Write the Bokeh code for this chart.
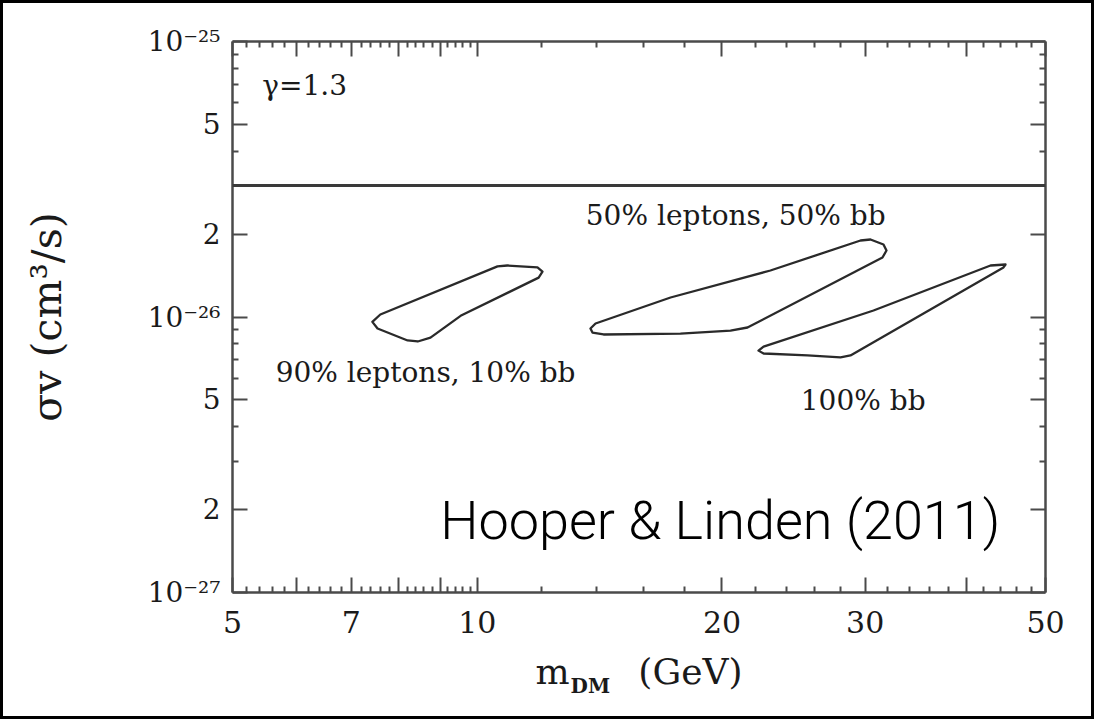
from bokeh.plotting import figure
from bokeh.models import LogAxis, FixedTicker, CustomJSTickFormatter, Span, Label
from bokeh.embed import file_html
from bokeh.resources import INLINE

# ---------------- data ----------------
X_RANGE = (5, 50)
Y_RANGE = (1e-27, 1e-25)

x_major = [5, 6, 7, 8, 9, 10, 20, 30, 40, 50]
x_labeled = [5, 7, 10, 20, 30, 50]
x_minor = [5.2, 5.4, 5.6, 5.8, 6.2, 6.4, 6.6, 6.8, 7.2, 7.4, 7.6, 7.8,
           8.2, 8.4, 8.6, 8.8, 9.2, 9.4, 9.6, 9.8,
           12, 14, 16, 18, 22, 24, 26, 28, 32, 34, 36, 38, 42, 44, 46, 48]
y_major = [1e-27, 2e-27, 5e-27, 1e-26, 2e-26, 5e-26, 1e-25]
y_minor = [3e-27, 4e-27, 6e-27, 7e-27, 8e-27, 9e-27,
           3e-26, 4e-26, 6e-26, 7e-26, 8e-26, 9e-26]

limit_sv = 3e-26   # horizontal limit line

UNIT = 1e-26
# contour: 90% leptons, 10% bb
c90_m = [7.43, 7.60, 10.59, 10.89, 11.86, 12.03, 11.90, 9.54, 8.76, 8.45, 8.21, 7.54]
c90_sv = [0.960, 1.021, 1.526, 1.538, 1.513, 1.460, 1.390, 1.010, 0.842, 0.815, 0.822, 0.908]
# contour: 50% leptons, 50% bb
c50_m = [13.78, 13.98, 17.29, 22.94, 29.61, 30.46, 31.60, 31.87, 31.51, 21.50, 20.49, 17.78, 14.30, 13.86]
c50_sv = [0.908, 0.947, 1.177, 1.475, 1.895, 1.911, 1.833, 1.743, 1.644, 0.916, 0.893, 0.871, 0.864, 0.878]
# contour: 100% bb
cbb_m = [22.18, 22.50, 30.72, 42.79, 44.65, 44.39, 28.78, 27.98, 25.48, 22.50]
cbb_sv = [0.755, 0.781, 1.056, 1.538, 1.551, 1.513, 0.725, 0.713, 0.725, 0.737]

contour_m = [c90_m, c50_m, cbb_m]
contour_sv = [[v * UNIT for v in c90_sv], [v * UNIT for v in c50_sv], [v * UNIT for v in cbb_sv]]

# annotation texts
ann_texts = ["γ=1.3", "50% leptons, 50% bb", "90% leptons, 10% bb", "100% bb"]
ann_x = [5.44, 13.6, 5.65, 25.0]
ann_y = [6.9e-26, 2.33e-26, 6.29e-27, 4.98e-27]
credit = "Hooper & Linden (2011)"

FS = "\u2007"  # figure space used for spacing inside the axis title
x_title_main = "m" + FS * 3 + "(GeV)"
x_title_sub = "DM" + FS * 7

# ---------------- figure ----------------
AX = "#4a4a4a"
TXT = "#1a1a1a"
SERIF = "DejaVu Serif"

p = figure(x_axis_type="log", y_axis_type="log", x_range=X_RANGE, y_range=Y_RANGE,
           frame_width=813, frame_height=551,
           min_border_left=229, min_border_right=46, min_border_top=38, min_border_bottom=124,
           output_backend="svg", toolbar_location=None)
p.styles = {"border": "3px solid black"}
p.outline_line_color = None
p.xgrid.visible = False
p.ygrid.visible = False
p.background_fill_color = "white"
p.border_fill_color = "white"

xt = FixedTicker(ticks=x_major, minor_ticks=x_minor)
yt = FixedTicker(ticks=y_major, minor_ticks=y_minor)

x_fmt = CustomJSTickFormatter(args=dict(show=x_labeled),
                              code="return show.includes(tick) ? String(tick) : '';")
y_fmt = CustomJSTickFormatter(code="""
const e = Math.floor(Math.log10(tick) + 1e-9);
const m = Math.round(tick / Math.pow(10, e));
if (m === 1) {
  const sup = {"-": "\u207b", "0": "\u2070", "1": "\u00b9", "2": "\u00b2", "3": "\u00b3",
               "4": "\u2074", "5": "\u2075", "6": "\u2076", "7": "\u2077", "8": "\u2078", "9": "\u2079"};
  return "10" + String(e).split("").map(c => sup[c]).join("");
}
return String(m);
""")
blank = CustomJSTickFormatter(code="return '';")


def style_axis(ax):
    ax.axis_line_color = AX
    ax.axis_line_width = 2.5
    ax.major_tick_line_color = AX
    ax.major_tick_line_width = 2
    ax.minor_tick_line_color = AX
    ax.minor_tick_line_width = 2
    ax.major_tick_in = 15
    ax.major_tick_out = 0
    ax.minor_tick_in = 6
    ax.minor_tick_out = 0
    ax.major_label_text_font = SERIF
    ax.major_label_text_color = TXT


xa = p.xaxis[0]
xa.ticker = xt
xa.formatter = x_fmt
style_axis(xa)
xa.major_label_text_font_size = "30px"
xa.major_label_standoff = 18
xa.axis_label = x_title_main
xa.axis_label_text_font = SERIF
xa.axis_label_text_font_size = "36px"
xa.axis_label_text_font_style = "normal"
xa.axis_label_text_color = TXT
xa.axis_label_standoff = 15

# second (invisible) axis below, carrying only the subscript of the title
sub_ax = LogAxis(ticker=FixedTicker(ticks=[]), formatter=blank, axis_line_color=None,
                 major_tick_line_color=None, minor_tick_line_color=None,
                 major_label_standoff=0, axis_label=x_title_sub,
                 axis_label_text_font=SERIF, axis_label_text_font_size="20px",
                 axis_label_text_font_style="bold", axis_label_text_color=TXT,
                 axis_label_standoff=-21)
p.add_layout(sub_ax, "below")

ya = p.yaxis[0]
ya.ticker = yt
ya.formatter = y_fmt
style_axis(ya)
ya.major_label_text_font_size = "28px"
ya.major_label_standoff = 12
ya.axis_label = "σv (cm³/s)"
ya.axis_label_text_font = SERIF
ya.axis_label_text_font_size = "41px"
ya.axis_label_text_font_style = "normal"
ya.axis_label_text_color = TXT
ya.axis_label_standoff = 74

top = LogAxis(ticker=xt, formatter=blank, major_label_standoff=0)
style_axis(top)
p.add_layout(top, "above")
right = LogAxis(ticker=yt, formatter=blank, major_label_standoff=0)
style_axis(right)
p.add_layout(right, "right")

# limit line
p.add_layout(Span(location=limit_sv, dimension="width", line_color="#3a3a3a", line_width=3))

# contours
p.patches(xs=contour_m, ys=contour_sv, fill_color=None, line_color="#2a2a2a",
          line_width=2.3, line_join="round")

# annotations
for t, xx, yy in zip(ann_texts, ann_x, ann_y):
    p.add_layout(Label(x=xx, y=yy, text=t, text_font=SERIF, text_font_size="28px",
                       text_baseline="middle", text_color=TXT))

p.add_layout(Label(x=44.0, y=1.83e-27, text=credit, text_font="Roboto Light",
                   text_font_size="54px", text_align="right", text_baseline="middle",
                   text_color="black"))

open("out.html", "w").write(file_html(p, INLINE))
